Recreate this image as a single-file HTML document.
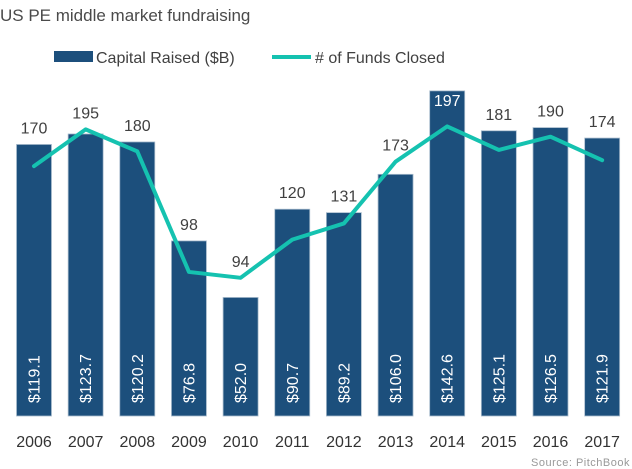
<!DOCTYPE html>
<html><head><meta charset="utf-8"><style>
body{margin:0;background:#fff;}
svg{display:block;font-family:"Liberation Sans",sans-serif;}
</style></head><body>
<svg id="chart" width="632" height="469" viewBox="0 0 632 469">
<text x="0" y="21" font-size="17" fill="#4a4a4a">US PE middle market fundraising</text>
<g>
<rect x="54" y="51" width="39" height="11" fill="#1c4f7c"/>
<text x="96" y="63" font-size="16" fill="#404040">Capital Raised ($B)</text>
<line x1="272" y1="57" x2="311" y2="57" stroke="#15c2b0" stroke-width="4"/>
<text x="315" y="63" font-size="16" fill="#404040"># of Funds Closed</text>
</g>
<g id="bars"></g><g id="line"></g><g id="labels"></g>
<text x="630" y="466" font-size="11" fill="#999" text-anchor="end" letter-spacing="0.5">Source: PitchBook</text>
</svg>
<script>
const years=["2006","2007","2008","2009","2010","2011","2012","2013","2014","2015","2016","2017"];
const capital=[119.1,123.7,120.2,76.8,52.0,90.7,89.2,106.0,142.6,125.1,126.5,121.9];
const funds=[170,195,180,98,94,120,131,173,197,181,190,174];
const NS="http://www.w3.org/2000/svg";
const base=416;
function xC(i){return 34+i*51.65;}
function yCap(v){return base-v*2.28;}
function yFund(v){return base-v*1.47;}
function mk(t,a,p){const e=document.createElementNS(NS,t);for(const k in a)e.setAttribute(k,a[k]);p.appendChild(e);return e;}
const gb=document.getElementById('bars'),gl=document.getElementById('line'),gt=document.getElementById('labels');
years.forEach((y,i)=>{
  const top=yCap(capital[i]);
  const r=mk('rect',{x:xC(i)-17.5,y:top,width:35,height:base-top,fill:'#1c4f7c',stroke:'#a9bccd','stroke-width':0.8},gb);
  
  
  const vt=mk('text',{x:0,y:0,'font-size':16,fill:'#fff',transform:`translate(${xC(i)+5.5},403) rotate(-90)`},gt);
  vt.textContent='$'+capital[i].toFixed(1);
  
  
  const yt=mk('text',{x:xC(i),y:447,'font-size':16,fill:'#333','text-anchor':'middle'},gt);
  yt.textContent=y;
  
  
  let ly=Math.min(top,yFund(funds[i]))-11;let col='#404040';
  if(ly<95){ly=top+15;col='#fff';}
  const ct=mk('text',{x:xC(i),y:ly,'font-size':16,fill:col,'text-anchor':'middle'},gt);
  ct.textContent=funds[i];
  
  
});
const pl=mk('polyline',{points:funds.map((v,i)=>xC(i)+','+yFund(v)).join(' '),fill:'none',stroke:'#15c2b0','stroke-width':4,'stroke-linejoin':'round','stroke-linecap':'round'},gl);


</script>
</body></html>
